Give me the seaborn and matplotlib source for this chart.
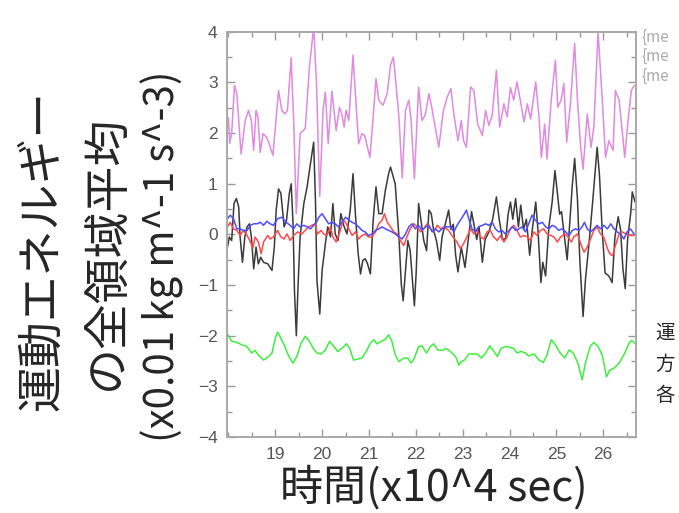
import numpy as np
import pandas as pd
import matplotlib
matplotlib.use("Agg")
import matplotlib.pyplot as plt
import seaborn as sns
from matplotlib.ticker import MultipleLocator

# values (time in 10^4 s, energy in 0.01 kg m^-1 s^-3)
violet_t = [18.00, 18.03, 18.07, 18.13, 18.18, 18.27, 18.36, 18.43, 18.49, 18.54, 18.59, 18.63,
            18.68, 18.74, 18.81, 18.86, 18.95, 19.07, 19.14, 19.21, 19.26, 19.34, 19.39, 19.45,
            19.53, 19.64, 19.73, 19.82, 19.88, 19.95, 20.02, 20.07, 20.13, 20.21, 20.30, 20.37,
            20.42, 20.47, 20.51, 20.57, 20.66, 20.71, 20.78, 20.85, 20.91, 21.02, 21.09, 21.15,
            21.21, 21.30, 21.39, 21.46, 21.52, 21.55, 21.64, 21.71, 21.78, 21.85, 21.90, 21.97,
            22.06, 22.13, 22.20, 22.28, 22.34, 22.49, 22.59, 22.67, 22.75, 22.81, 22.90, 22.97,
            23.02, 23.08, 23.17, 23.24, 23.32, 23.42, 23.49, 23.56, 23.63, 23.72, 23.79, 23.88,
            23.95, 24.02, 24.09, 24.16, 24.23, 24.31, 24.38, 24.45, 24.56, 24.63, 24.68, 24.75,
            24.80, 24.89, 24.98, 25.03, 25.10, 25.16, 25.22, 25.30, 25.39, 25.45, 25.52, 25.57,
            25.66, 25.74, 25.80, 25.89, 25.98, 26.05, 26.12, 26.21, 26.26, 26.34, 26.39, 26.46,
            26.53, 26.60, 26.66]
violet_v = [2.30, 1.80, 2.00, 2.94, 2.78, 1.59, 2.25, 2.45, 2.25, 1.66, 2.45, 2.32,
            1.62, 1.99, 1.92, 1.82, 1.56, 2.84, 2.45, 2.38, 2.45, 3.49, 2.32, 0.41,
            1.99, 2.09, 3.31, 4.10, 2.98, 0.75, 2.45, 2.81, 1.79, 2.83, 2.05, 2.51,
            2.38, 2.12, 2.45, 2.25, 3.54, 2.78, 1.79, 1.99, 1.95, 1.52, 2.32, 3.08,
            2.65, 2.55, 2.78, 3.34, 3.50, 3.24, 2.32, 1.12, 2.45, 2.65, 2.25, 1.10,
            2.91, 2.25, 2.35, 2.78, 2.51, 1.72, 2.45, 2.71, 2.88, 2.38, 1.85, 2.25,
            1.85, 1.72, 2.91, 2.84, 2.18, 1.95, 2.45, 2.15, 2.35, 3.24, 2.12, 2.58,
            2.32, 2.90, 2.65, 3.01, 2.65, 2.22, 2.58, 2.28, 3.01, 2.32, 1.52, 2.18,
            1.49, 2.65, 3.44, 2.51, 2.65, 2.98, 1.82, 2.58, 3.77, 2.65, 1.72, 1.29,
            2.38, 1.72, 2.12, 4.00, 2.65, 1.52, 1.85, 1.66, 2.84, 2.65, 2.18, 1.52,
            2.25, 2.84, 2.94]

black_t = [17.98, 18.02, 18.07, 18.12, 18.17, 18.22, 18.25, 18.30, 18.35, 18.40, 18.45, 18.49,
           18.54, 18.59, 18.64, 18.69, 18.75, 18.84, 18.93, 18.98, 19.02, 19.07, 19.12, 19.19,
           19.24, 19.30, 19.34, 19.38, 19.41, 19.45, 19.48, 19.53, 19.61, 19.68, 19.75, 19.82,
           19.86, 19.89, 19.95, 20.00, 20.07, 20.12, 20.18, 20.23, 20.28, 20.34, 20.40, 20.46,
           20.53, 20.60, 20.66, 20.71, 20.77, 20.82, 20.87, 20.92, 20.97, 21.03, 21.09, 21.15,
           21.21, 21.28, 21.35, 21.42, 21.46, 21.52, 21.56, 21.64, 21.69, 21.73, 21.78, 21.83,
           21.88, 21.94, 21.97, 22.01, 22.06, 22.11, 22.17, 22.23, 22.28, 22.33, 22.38, 22.44,
           22.51, 22.56, 22.63, 22.70, 22.75, 22.80, 22.85, 22.90, 22.97, 23.05, 23.12, 23.19,
           23.24, 23.30, 23.35, 23.42, 23.48, 23.56, 23.64, 23.72, 23.78, 23.85, 23.92, 23.97,
           24.02, 24.07, 24.13, 24.19, 24.24, 24.30, 24.36, 24.43, 24.48, 24.56, 24.61, 24.67,
           24.71, 24.77, 24.84, 24.91, 24.97, 25.02, 25.07, 25.11, 25.16, 25.23, 25.28, 25.34,
           25.39, 25.45, 25.50, 25.57, 25.62, 25.70, 25.78, 25.87, 25.92, 25.98, 26.04, 26.12,
           26.19, 26.25, 26.32, 26.37, 26.42, 26.47, 26.52, 26.59, 26.62, 26.68]
black_v = [-0.25, -0.05, -0.12, 0.61, 0.71, 0.54, -0.05, -0.55, -0.05, 0.15, 0.21, -0.05,
           -0.68, -0.25, -0.58, -0.45, -0.55, -0.58, -0.71, -0.25, 0.48, 0.90, 0.81, 0.15,
           0.28, 0.81, 1.00, 0.21, -1.11, -2.00, -1.17, -0.05, 0.61, 0.94, 1.39, 1.82,
           0.60, -0.91, -1.57, -0.71, -0.18, 0.15, -0.05, 0.61, 0.01, -0.12, 0.41, 0.18,
           0.01, 0.48, 1.20, 0.41, -0.38, -0.78, -0.51, -0.48, -0.58, -0.78, 0.28, 0.94,
           0.41, 0.41, 0.87, 1.20, 1.33, 1.13, 1.00, -0.05, -0.98, -1.31, -0.71, -0.12,
           -0.32, -1.04, -1.41, -0.71, 0.61, 0.28, -0.12, -0.32, 0.48, 0.41, 0.08, -0.12,
           -0.51, -0.05, 0.21, 0.48, 0.10, 0.20, -0.41, -0.74, -0.25, -0.65, -0.10, 0.45,
           0.20, -0.10, 0.15, -0.55, -0.10, 0.05, 0.30, 0.74, 0.30, -0.10, -0.08, 0.40,
           0.64, 0.30, 0.71, 0.15, 0.58, 0.10, 0.30, -0.41, 0.05, 0.64, 0.05, -0.95,
           -0.55, -0.82, 0.15, 0.64, 1.26, 0.84, 0.40, 0.45, 0.05, -0.50, 0.15, 0.97,
           1.50, 0.70, -0.50, -1.62, -0.90, -0.15, 0.70, 1.72, 1.17, 0.05, -0.76, -0.82,
           -0.95, -0.05, 0.35, 0.10, -0.67, -1.07, -0.10, 0.45, 0.84, 0.64]

red_t = [17.98, 18.04, 18.11, 18.18, 18.25, 18.32, 18.40, 18.47, 18.52, 18.57, 18.64, 18.70,
         18.75, 18.84, 18.89, 18.96, 19.05, 19.12, 19.19, 19.25, 19.32, 19.39, 19.48, 19.57,
         19.64, 19.71, 19.78, 19.85, 19.90, 19.98, 20.03, 20.10, 20.18, 20.23, 20.30, 20.38,
         20.45, 20.50, 20.57, 20.64, 20.71, 20.78, 20.85, 20.92, 20.99, 21.06, 21.14, 21.21,
         21.28, 21.33, 21.39, 21.46, 21.53, 21.60, 21.67, 21.74, 21.81, 21.88, 21.96, 22.03,
         22.10, 22.17, 22.24, 22.31, 22.38, 22.46, 22.53, 22.60, 22.70, 22.77, 22.88, 22.95,
         23.02, 23.09, 23.17, 23.24, 23.31, 23.38, 23.45, 23.52, 23.59, 23.66, 23.74, 23.81,
         23.88, 23.95, 24.02, 24.09, 24.16, 24.23, 24.31, 24.38, 24.45, 24.52, 24.59, 24.66,
         24.73, 24.80, 24.88, 24.95, 25.02, 25.09, 25.18, 25.25, 25.32, 25.37, 25.45, 25.52,
         25.59, 25.66, 25.73, 25.80, 25.87, 25.94, 26.01, 26.09, 26.14, 26.20, 26.26, 26.34,
         26.41, 26.48, 26.55, 26.66]
red_v = [0.15, 0.24, 0.11, 0.08, -0.02, 0.08, -0.02, -0.15, -0.28, -0.05, -0.15, -0.38,
         -0.15, -0.02, -0.09, -0.05, 0.08, -0.05, -0.09, 0.01, -0.12, -0.02, 0.05, 0.01,
         0.08, 0.15, 0.18, 0.21, 0.01, 0.08, 0.01, -0.02, 0.15, -0.05, -0.15, 0.05,
         0.28, 0.24, 0.11, -0.02, 0.05, -0.09, -0.02, 0.01, -0.05, -0.05, 0.05, 0.21,
         0.28, 0.41, 0.24, 0.15, 0.05, 0.01, -0.12, -0.22, -0.05, 0.11, 0.21, 0.15,
         0.05, 0.11, 0.21, 0.11, 0.05, 0.18, 0.11, 0.15, 0.08, -0.02, -0.15, -0.28,
         -0.18, -0.05, 0.11, 0.01, 0.08, -0.05, -0.09, 0.05, 0.08, -0.05, -0.12, -0.02,
         -0.15, -0.05, 0.11, 0.18, 0.08, -0.05, -0.02, -0.05, -0.12, 0.05, -0.02, 0.08,
         0.11, 0.01, -0.02, -0.05, -0.15, -0.05, 0.01, -0.05, -0.15, -0.05, 0.01, -0.18,
         -0.35, -0.25, -0.09, 0.08, 0.15, 0.01, -0.05, -0.28, -0.38, -0.42, -0.22, 0.01,
         0.05, 0.01, -0.02, -0.02]

blue_t = [17.98, 18.04, 18.11, 18.18, 18.25, 18.32, 18.40, 18.47, 18.54, 18.61, 18.68, 18.75,
          18.82, 18.89, 18.96, 19.05, 19.14, 19.23, 19.32, 19.39, 19.46, 19.53, 19.61, 19.68,
          19.75, 19.82, 19.88, 19.93, 20.00, 20.07, 20.14, 20.21, 20.28, 20.35, 20.42, 20.50,
          20.57, 20.64, 20.71, 20.78, 20.85, 20.92, 20.99, 21.07, 21.14, 21.21, 21.28, 21.35,
          21.42, 21.49, 21.56, 21.64, 21.71, 21.78, 21.85, 21.92, 21.99, 22.06, 22.13, 22.21,
          22.28, 22.35, 22.42, 22.49, 22.56, 22.63, 22.70, 22.74, 22.81, 22.88, 22.95, 23.02,
          23.08, 23.13, 23.20, 23.27, 23.34, 23.42, 23.49, 23.56, 23.63, 23.70, 23.77, 23.84,
          23.91, 23.99, 24.06, 24.13, 24.20, 24.27, 24.34, 24.41, 24.48, 24.55, 24.63, 24.70,
          24.77, 24.84, 24.91, 24.98, 25.05, 25.12, 25.20, 25.27, 25.34, 25.41, 25.48, 25.55,
          25.60, 25.66, 25.73, 25.80, 25.87, 25.94, 26.01, 26.09, 26.16, 26.23, 26.30, 26.37,
          26.44, 26.51, 26.58, 26.66]
blue_v = [0.31, 0.38, 0.31, 0.11, 0.11, 0.08, 0.08, 0.18, 0.21, 0.21, 0.24, 0.18,
          0.26, 0.21, 0.18, 0.31, 0.34, 0.24, 0.18, 0.11, 0.21, 0.15, 0.18, 0.15,
          0.11, 0.18, 0.24, 0.34, 0.41, 0.31, 0.21, 0.24, 0.21, 0.15, 0.24, 0.34,
          0.28, 0.24, 0.21, 0.15, 0.08, 0.05, -0.02, 0.01, 0.08, 0.11, 0.15, 0.11,
          0.08, 0.05, 0.01, -0.05, -0.09, 0.01, 0.15, 0.21, 0.11, 0.18, 0.08, 0.15,
          0.18, 0.05, 0.11, 0.05, 0.11, 0.15, 0.15, 0.15, 0.05, 0.18, 0.28, 0.38,
          0.48, 0.31, 0.11, 0.05, 0.15, 0.18, 0.21, 0.18, 0.24, 0.11, 0.05, 0.08,
          0.01, 0.08, 0.15, 0.08, 0.11, 0.15, 0.05, 0.21, 0.38, 0.28, 0.21, 0.24,
          0.15, 0.11, 0.18, 0.15, 0.08, 0.11, 0.05, -0.02, 0.08, 0.11, 0.08, 0.15,
          0.24, 0.11, 0.05, 0.11, 0.18, 0.11, 0.18, 0.11, 0.21, 0.11, 0.05, 0.01,
          -0.09, 0.05, 0.11, 0.01]

green_t = [17.99, 18.07, 18.18, 18.29, 18.39, 18.50, 18.57, 18.64, 18.75, 18.86, 18.93, 19.00,
           19.05, 19.12, 19.19, 19.29, 19.38, 19.46, 19.55, 19.64, 19.71, 19.81, 19.89, 19.98,
           20.07, 20.16, 20.25, 20.33, 20.42, 20.52, 20.59, 20.67, 20.76, 20.85, 20.94, 21.03,
           21.10, 21.17, 21.26, 21.35, 21.42, 21.49, 21.56, 21.64, 21.74, 21.83, 21.90, 21.97,
           22.06, 22.13, 22.23, 22.31, 22.38, 22.47, 22.56, 22.65, 22.74, 22.85, 22.92, 22.97,
           23.04, 23.13, 23.22, 23.31, 23.40, 23.49, 23.58, 23.67, 23.74, 23.82, 23.92, 24.01,
           24.09, 24.16, 24.25, 24.34, 24.41, 24.52, 24.63, 24.72, 24.80, 24.89, 24.98, 25.08,
           25.18, 25.27, 25.36, 25.46, 25.55, 25.62, 25.72, 25.80, 25.89, 25.98, 26.07, 26.14,
           26.23, 26.34, 26.44, 26.55, 26.60, 26.69]
green_v = [-1.98, -2.11, -2.13, -2.18, -2.21, -2.34, -2.29, -2.38, -2.48, -2.41, -2.34, -2.05,
           -1.93, -2.05, -2.18, -2.41, -2.54, -2.41, -2.15, -2.01, -2.08, -2.25, -2.34, -2.36,
           -2.28, -2.11, -2.21, -2.31, -2.25, -2.16, -2.25, -2.48, -2.46, -2.44, -2.31, -2.15,
           -2.08, -2.16, -2.11, -2.07, -1.98, -2.11, -2.38, -2.51, -2.44, -2.44, -2.54, -2.44,
           -2.21, -2.20, -2.34, -2.21, -2.16, -2.28, -2.29, -2.25, -2.31, -2.41, -2.58, -2.51,
           -2.48, -2.36, -2.36, -2.36, -2.44, -2.34, -2.20, -2.31, -2.41, -2.25, -2.21, -2.23,
           -2.25, -2.34, -2.31, -2.34, -2.40, -2.36, -2.48, -2.53, -2.38, -2.08, -2.18, -2.34,
           -2.44, -2.28, -2.34, -2.54, -2.87, -2.54, -2.21, -2.13, -2.21, -2.38, -2.81, -2.68,
           -2.64, -2.54, -2.38, -2.15, -2.09, -2.16]

x_ticks = [19, 20, 21, 22, 23, 24, 25, 26]
y_ticks = [-4, -3, -2, -1, 0, 1, 2, 3, 4]

sns.set_style("ticks")
plt.rcParams['font.family'] = ['Noto Sans CJK JP', 'DejaVu Sans']

fig = plt.figure(figsize=(6.79, 5.13), dpi=100)
ax = fig.add_axes([0.335, 0.148, 0.601, 0.790])

series = [
    (black_t, black_v, '#3a3a3a'),
    (red_t, red_v, '#ff4a4a'),
    (blue_t, blue_v, '#4d4dff'),
    (violet_t, violet_v, '#e08ae0'),
    (green_t, green_v, '#3ef03e'),
]
for t, v, c in series:
    df = pd.DataFrame({'time': t, 'energy': v})
    sns.lineplot(data=df, x='time', y='energy', color=c, linewidth=1.1, ax=ax)

ax.set_xlim(17.98, 26.69)
ax.set_ylim(-4, 4)
ax.set_xticks(x_ticks)
ax.set_yticks(y_ticks)
ax.set_yticklabels(['\u2212' + str(-y) if y < 0 else str(y) for y in y_ticks])
ax.xaxis.set_minor_locator(MultipleLocator(0.5))
ax.yaxis.set_minor_locator(MultipleLocator(0.5))
ax.set_xlabel('')
ax.set_ylabel('')
for s in ax.spines.values():
    s.set_visible(True)
    s.set_color('#a8a8a8')
    s.set_linewidth(1.4)
ax.tick_params(which='both', direction='in', top=True, right=True, color='#999999', width=1.0)
ax.tick_params(which='major', length=6, pad=7, labelsize=12.5, labelcolor='#555555')
ax.tick_params(which='minor', length=3.5)
for lab in ax.get_xticklabels() + ax.get_yticklabels():
    lab.set_family(['Liberation Sans', 'DejaVu Sans'])

# y label in three rotated lines
fig.text(0.062, 0.512, '運動エネルギー', rotation=90, ha='center', va='center', fontsize=33)
fig.text(0.157, 0.509, 'の全領域平均', rotation=90, ha='center', va='center', fontsize=33)
fig.text(0.239, 0.501, '(x0.01 kg m^-1 s^-3)', rotation=90, ha='center', va='center', fontsize=29)
fig.text(0.639, 0.049, '時間(x10^4 sec)', ha='center', va='center', fontsize=31)

# legend remnants to the right of the axes
for yy in [0.928, 0.891, 0.852]:
    fig.text(0.944, yy, '{me', ha='left', va='center', fontsize=11, color='#aaaaaa')

# annotation characters at the right edge
for ch, yy in [('運', 0.351), ('方', 0.289), ('各', 0.230)]:
    fig.text(0.965, yy, ch, ha='left', va='center', fontsize=14)

fig.savefig('out.png', dpi=100)
